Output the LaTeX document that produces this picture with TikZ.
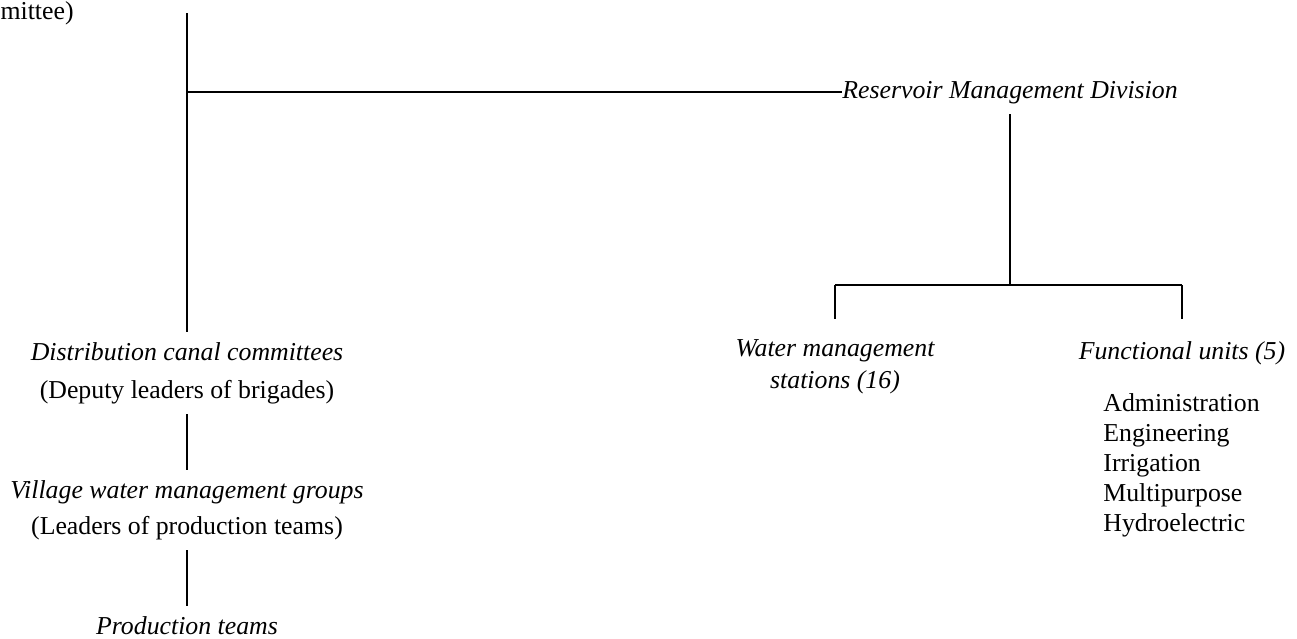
\documentclass[tikz,border=0pt]{standalone}
\usepackage{fontspec}
\setmainfont{Liberation Serif}
\usetikzlibrary{positioning, calc}
\newcommand{\chartfont}{\fontsize{12.9}{15}\selectfont}

\tikzset{
  link/.style={line width=1pt},
  unit/.style={font=\chartfont\itshape, inner sep=0pt, outer ysep=5pt, text height=9pt, text depth=3pt},
  role/.style={font=\chartfont, inner sep=0pt, outer ysep=5pt, text height=9pt, text depth=3pt},
}

\begin{document}
\begin{tikzpicture}[x=0.5pt, y=-0.5pt]
  \useasboundingbox (0,0) rectangle (1297,638);

  % clipped label of the parent body
  \node[font=\chartfont, inner sep=0pt, anchor=base east] (cmt) at (74,19) {mittee)};

  % left branch
  \coordinate (trunk) at (187,13);
  \coordinate (tee) at (187,92);
  \node[unit] (dcc) at (187,354) {Distribution canal committees};
  \node[role] (dccsub) at (187,392) {(Deputy leaders of brigades)};
  \node[unit] (vwm) at (187,492) {Village water management groups};
  \node[role] (vwmsub) at (187,528) {(Leaders of production teams)};
  \node[unit] (pt) at (187,628) {Production teams};

  % reservoir branch
  \node[unit] (rmd) at (1010,92) {Reservoir Management Division};
  \coordinate (forkL) at (835,285);
  \coordinate (forkR) at (1182,285);
  \coordinate (fork) at (rmd.south |- forkL);
  \node[unit] (wms) at (835,350) {Water management};
  \node[unit] (wmsb) at (835,382) {stations (16)};
  \node[unit] (fu) at (1182,353) {Functional units (5)};
  \node[font=\chartfont, inner sep=0pt, align=left, anchor=north west] (fulist) at (1103,393)
    {Administration\\Engineering\\Irrigation\\Multipurpose\\Hydroelectric};

  % connectors
  \draw[link] (trunk) -- (dcc.north);
  \draw[link] (tee) -- (rmd.west);
  \draw[link] (dccsub.south) -- (vwm.north);
  \draw[link] (vwmsub.south) -- (pt.north);
  \draw[link] (rmd.south) -- (fork);
  \draw[link] (forkL) -- (forkR);
  \draw[link, shorten >=4.5pt] (forkL) -- (wms.north);
  \draw[link, shorten >=6pt] (forkR) -- (fu.north);
\end{tikzpicture}
\end{document}
